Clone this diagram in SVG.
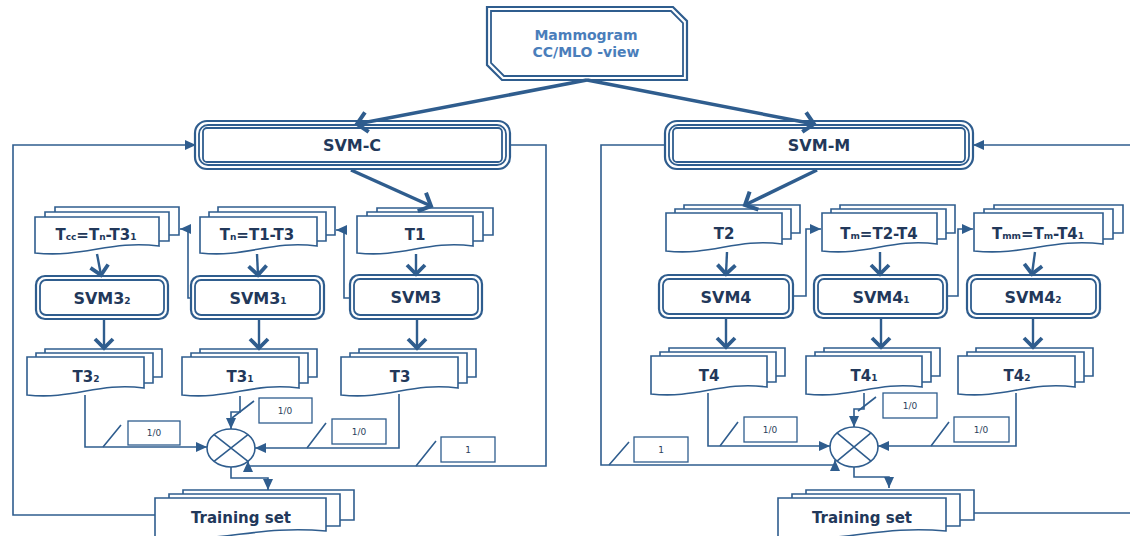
<svg xmlns="http://www.w3.org/2000/svg" width="1130" height="536" viewBox="0 0 1130 536">
<defs>
<style>
.ln{fill:none;stroke:#2f5d8e;stroke-width:1.6}
.th{fill:none;stroke:#2f5d8e;stroke-width:3.5}
.md{fill:none;stroke:#2f5d8e;stroke-width:2.4}
.doc{fill:#fff;stroke:#2f5d8e;stroke-width:1.6}
.bk{fill:none;stroke:#2f5d8e;stroke-width:1.6}
.o{fill:#fff;stroke:#2f5d8e;stroke-width:2.2}
.i{fill:none;stroke:#2f5d8e;stroke-width:1.8}
.lb{fill:#fff;stroke:#2f5d8e;stroke-width:1.3}
.t{font-family:"DejaVu Sans","Liberation Sans",sans-serif;font-weight:bold;fill:#22385a;text-anchor:middle}
.s{font-size:9px}
.sm{font-family:"DejaVu Sans","Liberation Sans",sans-serif;font-size:9px;fill:#2b3f5c;text-anchor:middle}
.mm{font-family:"DejaVu Sans","Liberation Sans",sans-serif;font-weight:bold;font-size:14px;fill:#4a7ebb;text-anchor:middle}
</style>
<marker id="tri" viewBox="-12 -6 13 12" refX="0" refY="0" markerWidth="13" markerHeight="12" orient="auto" markerUnits="userSpaceOnUse"><path d="M-11,-5 L0,0 L-11,5 Z" fill="#2f5d8e"/></marker>
<marker id="chev" viewBox="-14 -12 17 24" refX="0" refY="0" markerWidth="17" markerHeight="24" orient="auto" markerUnits="userSpaceOnUse"><path d="M-9,-9 L0,0 L-9,9" fill="none" stroke="#2f5d8e" stroke-width="3.8" stroke-linejoin="miter"/></marker>
<marker id="chevL" viewBox="-16 -13 19 26" refX="0" refY="0" markerWidth="19" markerHeight="26" orient="auto" markerUnits="userSpaceOnUse"><path d="M-10,-10 L0,0 L-10,10" fill="none" stroke="#2f5d8e" stroke-width="4" stroke-linejoin="miter"/></marker>
</defs>
<rect width="1130" height="536" fill="#fff"/>

<g id="mammogram">
<path class="o" d="M487,7 H673 L687,21 V80 H502 L487,65 Z"/>
<path class="i" d="M491,11 H671 L683,23 V76 H504 L491,63 Z" stroke-width="1.4"/>
<text class="mm" x="586" y="40">Mammogram</text>
<text class="mm" x="586" y="57">CC/MLO -view</text>
</g>

<g id="svm-c">
<rect class="o" x="195" y="121" width="315" height="48" rx="12" stroke-width="3"/>
<rect class="i" x="199" y="125" width="307" height="40" rx="9" stroke-width="1.2"/>
<rect class="i" x="203" y="128" width="299" height="34" rx="4" stroke-width="2"/>
<text class="t" x="352" y="151" font-size="16">SVM-C</text>
</g>
<g id="svm-m">
<rect class="o" x="665" y="121" width="308" height="48" rx="12" stroke-width="3"/>
<rect class="i" x="669" y="125" width="300" height="40" rx="9" stroke-width="1.2"/>
<rect class="i" x="673" y="128" width="292" height="34" rx="4" stroke-width="2"/>
<text class="t" x="819" y="151" font-size="16">SVM-M</text>
</g>

<g id="doc-tcc">
<path class="bk" d="M55,212 V207 H179 V235 H169"/>
<path class="bk" d="M45,217 V212 H169 V241 H159"/>
<path class="doc" d="M35,217 H159 V246 C109.4,240 84.6,258 35,253 Z"/>
<text class="t" x="96" y="240" font-size="15">T<tspan class="s" font-size="8">cc</tspan>=T<tspan class="s">n</tspan>-T3<tspan class="s">1</tspan></text>
</g>
<g id="doc-tn">
<path class="bk" d="M218,212 V207 H335 V235 H326"/>
<path class="bk" d="M209,217 V212 H326 V241 H317"/>
<path class="doc" d="M200,217 H317 V246 C270.2,240 246.8,258 200,253 Z"/>
<text class="t" x="257" y="240" font-size="15">T<tspan class="s">n</tspan>=T1-T3</text>
</g>
<g id="doc-t1">
<path class="bk" d="M377,212 V208 H493 V235 H483"/>
<path class="bk" d="M367,216 V212 H483 V241 H473"/>
<path class="doc" d="M357,216 H473 V246 C426.6,240 403.4,258 357,253 Z"/>
<text class="t" x="415" y="240" font-size="15">T1</text>
</g>

<g id="svm32">
<rect class="o" x="36" y="276" width="132" height="43" rx="9"/>
<rect class="i" x="40" y="280" width="124" height="35" rx="6"/>
<text class="t" x="102" y="304" font-size="16">SVM3<tspan class="s">2</tspan></text>
</g>
<g id="svm31">
<rect class="o" x="191" y="276" width="133" height="43" rx="9"/>
<rect class="i" x="195" y="280" width="125" height="35" rx="6"/>
<text class="t" x="258" y="304" font-size="16">SVM3<tspan class="s">1</tspan></text>
</g>
<g id="svm3">
<rect class="o" x="350" y="275" width="132" height="44" rx="9"/>
<rect class="i" x="354" y="279" width="124" height="36" rx="6"/>
<text class="t" x="416" y="303" font-size="16">SVM3</text>
</g>

<g id="doc-t32">
<path class="bk" d="M45,353 V349 H162 V377 H153"/>
<path class="bk" d="M36,357 V353 H153 V383 H144"/>
<path class="doc" d="M27,357 H144 V388 C97.2,382 73.8,400 27,395 Z"/>
<text class="t" x="86" y="382" font-size="15">T3<tspan class="s">2</tspan></text>
</g>
<g id="doc-t31">
<path class="bk" d="M200,353 V349 H317 V377 H308"/>
<path class="bk" d="M191,357 V353 H308 V383 H299"/>
<path class="doc" d="M182,357 H299 V388 C252.2,382 228.8,400 182,395 Z"/>
<text class="t" x="240" y="382" font-size="15">T3<tspan class="s">1</tspan></text>
</g>
<g id="doc-t3">
<path class="bk" d="M359,353 V349 H476 V377 H467"/>
<path class="bk" d="M350,357 V353 H467 V383 H458"/>
<path class="doc" d="M341,357 H458 V388 C411.2,382 387.8,400 341,395 Z"/>
<text class="t" x="400" y="382" font-size="15">T3</text>
</g>

<g id="combiner-left">
<ellipse cx="231" cy="448" rx="24" ry="19" fill="#fff" stroke="#2f5d8e" stroke-width="1.6"/>
<path class="ln" d="M214,434.6 L248,461.4 M248,434.6 L214,461.4"/>
</g>
<g id="labels-left">
<rect class="lb" x="128" y="421" width="52" height="24"/><text class="sm" x="154" y="436">1/0</text>
<rect class="lb" x="259" y="398" width="53" height="25"/><text class="sm" x="285" y="414">1/0</text>
<rect class="lb" x="332" y="419" width="54" height="25"/><text class="sm" x="359" y="435">1/0</text>
<rect class="lb" x="441" y="437" width="54" height="25"/><text class="sm" x="468" y="453">1</text>
</g>

<g id="training-left">
<path class="bk" d="M183,494 V490 H354 V520 H340"/>
<path class="bk" d="M169,498 V494 H340 V526 H326"/>
<path class="doc" d="M155,498 H326 V531 C257.6,525 223.4,543 155,538 Z"/>
<text class="t" x="241" y="523" font-size="15">Training set</text>
</g>

<g id="doc-t2">
<path class="bk" d="M684,209 V205 H800 V233 H791"/>
<path class="bk" d="M675,213 V209 H791 V239 H782"/>
<path class="doc" d="M666,213 H782 V244 C735.6,238 712.4,256 666,251 Z"/>
<text class="t" x="724" y="239" font-size="15">T2</text>
</g>
<g id="doc-tm">
<path class="bk" d="M840,209 V205 H955 V233 H946"/>
<path class="bk" d="M831,213 V209 H946 V239 H937"/>
<path class="doc" d="M822,213 H937 V244 C891,238 868,256 822,251 Z"/>
<text class="t" x="879" y="239" font-size="15">T<tspan class="s">m</tspan>=T2-T4</text>
</g>
<g id="doc-tmm">
<path class="bk" d="M994,209 V205 H1123 V233 H1113"/>
<path class="bk" d="M984,213 V209 H1113 V239 H1103"/>
<path class="doc" d="M974,213 H1103 V244 C1051.4,238 1025.6,256 974,251 Z"/>
<text class="t" x="1038" y="239" font-size="15">T<tspan class="s">mm</tspan>=T<tspan class="s">m</tspan>-T4<tspan class="s">1</tspan></text>
</g>

<g id="svm4">
<rect class="o" x="659" y="275" width="134" height="43" rx="9"/>
<rect class="i" x="663" y="279" width="126" height="35" rx="6"/>
<text class="t" x="726" y="303" font-size="16">SVM4</text>
</g>
<g id="svm41">
<rect class="o" x="814" y="275" width="133" height="43" rx="9"/>
<rect class="i" x="818" y="279" width="125" height="35" rx="6"/>
<text class="t" x="881" y="303" font-size="16">SVM4<tspan class="s">1</tspan></text>
</g>
<g id="svm42">
<rect class="o" x="967" y="275" width="133" height="43" rx="9"/>
<rect class="i" x="971" y="279" width="125" height="35" rx="6"/>
<text class="t" x="1033" y="303" font-size="16">SVM4<tspan class="s">2</tspan></text>
</g>

<g id="doc-t4">
<path class="bk" d="M669,352 V348 H785 V376 H776"/>
<path class="bk" d="M660,356 V352 H776 V382 H767"/>
<path class="doc" d="M651,356 H767 V387 C720.6,381 697.4,399 651,394 Z"/>
<text class="t" x="709" y="381" font-size="15">T4</text>
</g>
<g id="doc-t41">
<path class="bk" d="M824,352 V348 H940 V376 H931"/>
<path class="bk" d="M815,356 V352 H931 V382 H922"/>
<path class="doc" d="M806,356 H922 V387 C875.6,381 852.4,399 806,394 Z"/>
<text class="t" x="864" y="381" font-size="15">T4<tspan class="s">1</tspan></text>
</g>
<g id="doc-t42">
<path class="bk" d="M976,352 V348 H1093 V376 H1084"/>
<path class="bk" d="M967,356 V352 H1084 V382 H1075"/>
<path class="doc" d="M958,356 H1075 V387 C1028.2,381 1004.8,399 958,394 Z"/>
<text class="t" x="1017" y="381" font-size="15">T4<tspan class="s">2</tspan></text>
</g>

<g id="combiner-right">
<ellipse cx="854" cy="447" rx="24" ry="20" fill="#fff" stroke="#2f5d8e" stroke-width="1.6"/>
<path class="ln" d="M837,432.9 L871,461.1 M871,432.9 L837,461.1"/>
</g>
<g id="labels-right">
<rect class="lb" x="634" y="437" width="54" height="25"/><text class="sm" x="661" y="453">1</text>
<rect class="lb" x="744" y="417" width="53" height="25"/><text class="sm" x="770" y="433">1/0</text>
<rect class="lb" x="883" y="393" width="54" height="25"/><text class="sm" x="910" y="409">1/0</text>
<rect class="lb" x="954" y="417" width="55" height="25"/><text class="sm" x="981" y="433">1/0</text>
</g>

<g id="training-right">
<path class="bk" d="M806,494 V490 H974 V520 H960"/>
<path class="bk" d="M792,498 V494 H960 V526 H946"/>
<path class="doc" d="M778,498 H946 V531 C878.8,525 845.2,543 778,538 Z"/>
<text class="t" x="862" y="523" font-size="15">Training set</text>
</g>

<g id="connectors">
<path class="th" d="M587,80 L357,124" marker-end="url(#chevL)"/>
<path class="th" d="M587,80 L814,124" marker-end="url(#chevL)"/>
<path class="th" d="M351,170 L431,206" marker-end="url(#chevL)"/>
<path class="th" d="M817,170 L745,205" marker-end="url(#chevL)"/>
<path class="md" d="M97,254 L101,275" marker-end="url(#chev)"/>
<path class="md" d="M257,254 L258,275" marker-end="url(#chev)"/>
<path class="md" d="M416,254 L416,274" marker-end="url(#chev)"/>
<path class="md" d="M727,252 L726,274" marker-end="url(#chev)"/>
<path class="md" d="M880,252 L880,274" marker-end="url(#chev)"/>
<path class="md" d="M1035,252 L1032,274" marker-end="url(#chev)"/>
<path class="md" d="M104,320 L104,348" marker-end="url(#chev)"/>
<path class="md" d="M259,320 L259,348" marker-end="url(#chev)"/>
<path class="md" d="M417,320 L417,348" marker-end="url(#chev)"/>
<path class="md" d="M726,319 L726,347" marker-end="url(#chev)"/>
<path class="md" d="M881,319 L881,347" marker-end="url(#chev)"/>
<path class="md" d="M1033,319 L1033,347" marker-end="url(#chev)"/>
<path class="ln" d="M191,298 H188 V229 H180" marker-end="url(#tri)"/>
<path class="ln" d="M350,298 H344 V230 H336" marker-end="url(#tri)"/>
<path class="ln" d="M793,296 H806 V229 H821" marker-end="url(#tri)"/>
<path class="ln" d="M947,296 H958 V229 H973" marker-end="url(#tri)"/>
<path class="ln" d="M155,515 H13 V145 H196" marker-end="url(#tri)"/>
<path class="ln" d="M510,145 H546 V466 H248 V461" marker-end="url(#tri)"/>
<path class="ln" d="M85,395 V447 H207" marker-end="url(#tri)"/>
<path class="ln" d="M240,396 V412 H231 V429" marker-end="url(#tri)"/>
<path class="ln" d="M399,394 V448 H255" marker-end="url(#tri)"/>
<path class="ln" d="M231,467 V478 H268 V490" marker-end="url(#tri)"/>
<path class="ln" d="M665,145 H601 V465 H835 V460" marker-end="url(#tri)"/>
<path class="ln" d="M1130,145 H973" marker-end="url(#tri)"/>
<path class="ln" d="M974,513 H1130"/>
<path class="ln" d="M708,393 V446 H830" marker-end="url(#tri)"/>
<path class="ln" d="M864,393 V409 H854 V427" marker-end="url(#tri)"/>
<path class="ln" d="M1016,393 V446 H878" marker-end="url(#tri)"/>
<path class="ln" d="M854,467 V477 H889 V488" marker-end="url(#tri)"/>
<path class="ln" d="M103,447 L121,425 M232,418 L254,401 M307,448 L326,423 M416,466 L436,441"/>
<path class="ln" d="M609,465 L629,442 M720,446 L738,422 M858,411 L876,397 M931,446 L949,422"/>
</g>
</svg>
